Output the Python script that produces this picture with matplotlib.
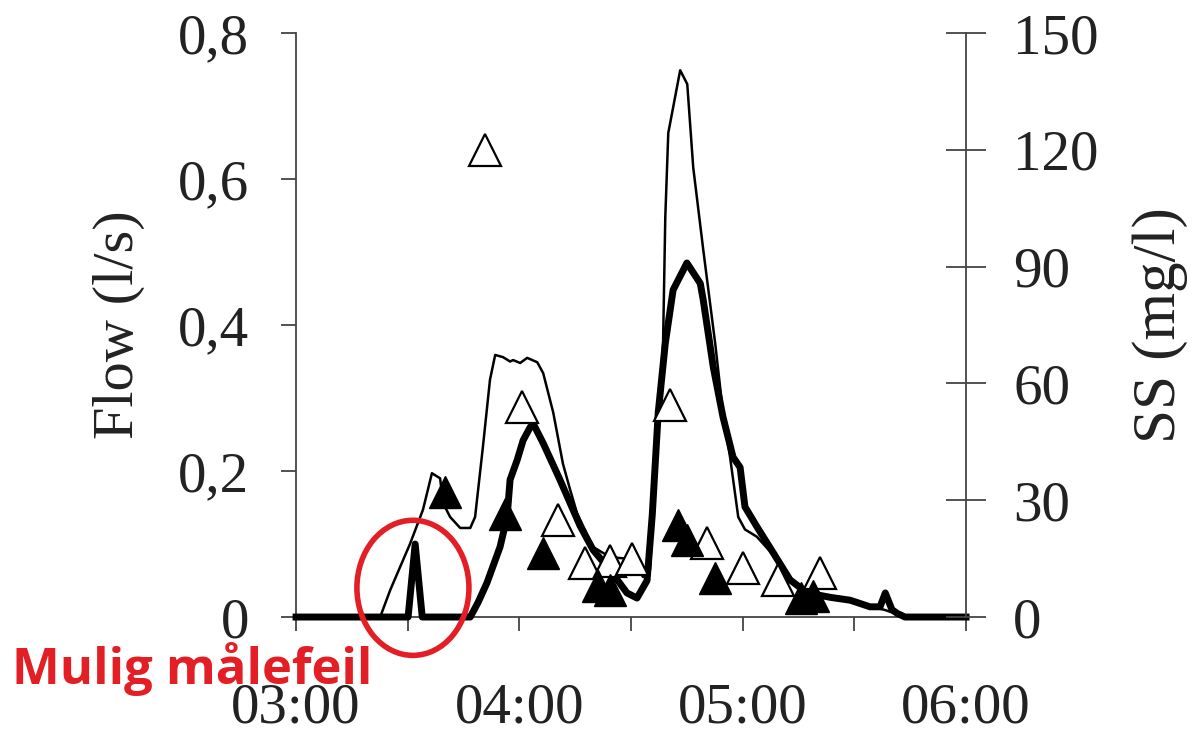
import matplotlib
matplotlib.use("Agg")
import matplotlib.pyplot as plt
from matplotlib.patches import Ellipse

# tid i minutter etter 03:00
tid_tynn = [0, 22.6, 25.3, 30.6, 34.1, 36.5, 38.7, 39.5, 41.4, 44.1, 46.8, 48.1,
            50.2, 52.1, 53.5, 55.6, 57.5, 58.3, 60.2, 62.1, 64.8, 66.4, 69.1,
            71.7, 73.6, 75.5, 79.8, 84.4, 88.9, 91.6, 93.2, 95.1, 95.9, 97.3,
            98.6, 99.2, 100.0, 103.2, 105.1, 106.7, 109.4, 112.6, 114.7, 116.6,
            118.8, 120.6, 123.8, 128.2, 132.7, 137.3, 143.5, 148.9, 154.2,
            158.0, 161.5, 164.0, 180]
flow_tynn = [0, 0, 0.037, 0.10, 0.147, 0.197, 0.19, 0.156, 0.137, 0.122, 0.122, 0.137,
             0.233, 0.325, 0.359, 0.356, 0.350, 0.352, 0.348, 0.355, 0.349, 0.334, 0.28,
             0.21, 0.175, 0.142, 0.096, 0.082, 0.08, 0.068, 0.055, 0.065, 0.14, 0.28,
             0.375, 0.548, 0.663, 0.749, 0.73, 0.616, 0.503, 0.375, 0.28, 0.219,
             0.137, 0.12, 0.11, 0.085, 0.05, 0.035, 0.028, 0.022, 0.014,
             0.01, 0.004, 0, 0]

tid_tykk = [0, 30.1, 32.0, 33.9, 46.8, 48.9, 51.3, 54.8, 56.7, 57.5, 59.4, 61.0,
            62.9, 63.7, 66.4, 70.9, 76.3, 79.8, 84.4, 88.9, 91.6, 94.3, 95.7,
            97.3, 99.2, 101.3, 105.0, 108.6, 109.4, 112.1, 114.7, 117.4, 119.3,
            120.6, 123.9, 128.2, 132.7, 137.3, 143.5, 148.9, 154.2, 156.9, 158.3,
            160.1, 161.5, 163.6, 180]
flow_tykk = [0, 0, 0.10, 0, 0, 0.02, 0.047, 0.096, 0.137, 0.188, 0.215, 0.242,
             0.26, 0.265, 0.238, 0.188, 0.125, 0.092, 0.064, 0.033, 0.026, 0.05, 0.14,
             0.28, 0.375, 0.448, 0.485, 0.457, 0.434, 0.342, 0.274, 0.219, 0.205,
             0.151, 0.123, 0.088, 0.051, 0.033, 0.027, 0.023, 0.014, 0.014, 0.033,
             0.01, 0.005, 0, 0]

tid_ss_aapen = [50.8, 60.7, 70.4, 77.7, 84.4, 90.3, 100.5, 110.4, 120.1, 129.5, 140.8]
ss_aapen = [120, 54, 25, 14, 14.5, 15, 54.5, 19, 12.6, 9.5, 11.3]

tid_ss_fylt = [40.0, 56.2, 66.4, 81.2, 84.4, 102.6, 105.1, 112.6, 135.6, 138.8]
ss_fylt = [32, 26.5, 16.4, 8, 7, 23.6, 19.8, 10, 5, 5.5]

flow_ticks = [0, 0.2, 0.4, 0.6, 0.8]
flow_labels = ["0", "0,2", "0,4", "0,6", "0,8"]
ss_ticks = [0, 30, 60, 90, 120, 150]
tid_ticks = [0, 60, 120, 180]
tid_minor = [30, 90, 150]
tid_labels = ["03:00", "04:00", "05:00", "06:00"]

plt.rcParams['font.family'] = ['Liberation Serif', 'DejaVu Serif']
spine_farge = '#444444'
tekst_farge = '#222222'
rod = '#e31e24'

fig = plt.figure(figsize=(12.02, 7.35), dpi=100)
ax = fig.add_axes([0.2463, 0.1605, 0.5574, 0.7946])

ax.plot(tid_tynn, flow_tynn, color='black', lw=1.8, clip_on=False, zorder=3)
ax.plot(tid_tykk, flow_tykk, color='black', lw=5, clip_on=False, zorder=4,
        solid_joinstyle='round')

ax.set_xlim(0, 180)
ax.set_ylim(0, 0.8)
ax.set_xticks(tid_ticks, tid_labels)
ax.set_xticks(tid_minor, minor=True)
ax.set_yticks(flow_ticks, flow_labels)
ax.tick_params(axis='x', which='both', direction='out', length=10, width=1.3,
               color=spine_farge, labelcolor=tekst_farge, pad=37, labelsize=41)
ax.tick_params(axis='y', direction='out', length=10.8, width=1.3,
               color=spine_farge, labelcolor=tekst_farge, pad=23, labelsize=41)
ax.set_ylabel('Flow (l/s)', fontsize=42, labelpad=24, color=tekst_farge)
for s in ['top', 'right']:
    ax.spines[s].set_visible(False)
for s in ['left', 'bottom']:
    ax.spines[s].set_color(spine_farge)
    ax.spines[s].set_linewidth(1.3)

ax2 = ax.twinx()
ax2.plot(tid_ss_aapen, ss_aapen, '^', ms=23, mfc='white', mec='black', mew=1.6,
         ls='none', zorder=5)
ax2.plot(tid_ss_fylt, ss_fylt, '^', ms=23, color='black', ls='none', zorder=5)
ax2.set_ylim(0, 150)
ax2.set_yticks(ss_ticks)
ax2.tick_params(axis='y', direction='inout', length=29, width=1.3,
                color=spine_farge, labelcolor=tekst_farge, pad=19.5, labelsize=41)
ax2.set_ylabel('SS (mg/l)', fontsize=44, labelpad=24, color=tekst_farge)
for s in ['top', 'left', 'bottom']:
    ax2.spines[s].set_visible(False)
ax2.spines['right'].set_color(spine_farge)
ax2.spines['right'].set_linewidth(1.3)

# markering av mulig målefeil
ax2.add_patch(Ellipse((31.4, 7.5), width=30.1, height=34.7, fill=False,
                      ec=rod, lw=4, clip_on=False, zorder=6))
fig.text(12 / 1202, 1 - 684 / 735, 'Mulig målefeil', color=rod, fontsize=36.5,
         fontweight='bold', family=['Open Sans', 'DejaVu Sans'], va='baseline')

fig.savefig('out.png', dpi=100)
